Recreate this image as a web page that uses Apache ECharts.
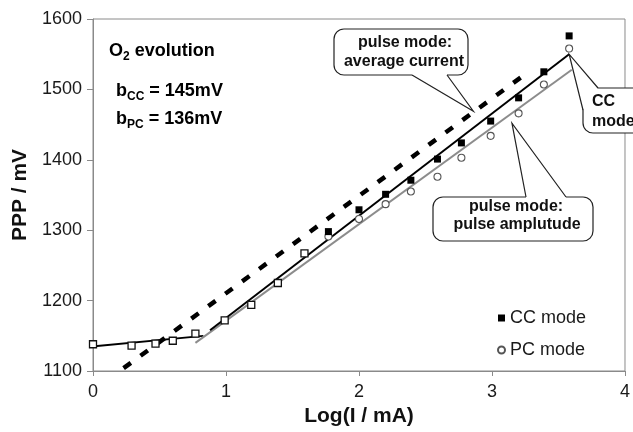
<!DOCTYPE html>
<html><head><meta charset="utf-8">
<script src="https://cdn.jsdelivr.net/npm/echarts@6/dist/echarts.min.js"></script>
<style>html,body{margin:0;padding:0;background:#fff}#c{width:633px;height:432px}</style>
</head><body><div id="c"></div>
<script>
// ---- data ----
const xTicks = [0, 1, 2, 3, 4];
const yTicks = [1100, 1200, 1300, 1400, 1500, 1600];
const ccX = [1.77, 2.00, 2.20, 2.39, 2.59, 2.77, 2.99, 3.20, 3.39, 3.58];
const ccY = [1298, 1329, 1351, 1371, 1401, 1424, 1455, 1488, 1525, 1576];
const pcX = [1.77, 2.00, 2.20, 2.39, 2.59, 2.77, 2.99, 3.20, 3.39, 3.58];
const pcY = [1291, 1316, 1337, 1355, 1376, 1403, 1434, 1466, 1507, 1558];
const lowX = [0.00, 0.29, 0.47, 0.60, 0.77, 0.99, 1.19, 1.39, 1.59];
const lowY = [1138, 1136, 1139, 1143, 1153, 1172, 1194, 1225, 1267];
const lowFitX = [-0.05, 0.83];
const lowFitY = [1134, 1150];
const ccFitX = [0.88, 3.58];
const ccFitY = [1158, 1550];
const pcFitX = [0.77, 3.60];
const pcFitY = [1140, 1528];
const avgFitX = [0.23, 3.26];
const avgFitY = [1104, 1523];

const zip = (a, b) => a.map((v, i) => [v, b[i]]);
const FONT = 'Arial, "Liberation Sans", sans-serif';

const chart = echarts.init(document.getElementById('c'), null, {renderer: 'canvas'});

const option = {
  animation: false,
  backgroundColor: '#fff',
  grid: {left: 93, right: 3, top: 19, bottom: 61, show: true, borderColor: '#8a8a8a', borderWidth: 1},
  xAxis: {
    type: 'value', min: xTicks[0], max: xTicks[xTicks.length - 1], interval: 1,
    name: 'Log(I / mA)', nameLocation: 'middle', nameGap: 31,
    nameTextStyle: {fontFamily: FONT, fontWeight: 'bold', fontSize: 21, color: '#111'},
    axisLine: {lineStyle: {color: '#8a8a8a', width: 1}},
    axisTick: {inside: false, length: 5, lineStyle: {color: '#8a8a8a'}},
    axisLabel: {fontFamily: FONT, fontSize: 18, color: '#1a1a1a', margin: 12},
    splitLine: {show: false}
  },
  yAxis: {
    type: 'value', min: yTicks[0], max: yTicks[yTicks.length - 1], interval: 100,
    name: 'PPP / mV', nameLocation: 'middle', nameGap: 62, nameRotate: 90,
    nameTextStyle: {fontFamily: FONT, fontWeight: 'bold', fontSize: 21, color: '#111'},
    axisLine: {lineStyle: {color: '#8a8a8a', width: 1}},
    axisTick: {inside: false, length: 6, lineStyle: {color: '#8a8a8a'}},
    axisLabel: {fontFamily: FONT, fontSize: 18, color: '#1a1a1a', margin: 11, formatter: v => String(v)},
    splitLine: {show: false}
  },
  legend: {
    orient: 'vertical', left: 492, top: 303, itemWidth: 7, itemHeight: 7, itemGap: 12,
    data: ['CC mode', 'PC mode'],
    textStyle: {fontFamily: FONT, fontSize: 18, color: '#1a1a1a', lineHeight: 20}
  },
  series: [
    {type: 'line', name: 'lowfit', data: zip(lowFitX, lowFitY), symbol: 'none', clip: false,
     lineStyle: {color: '#000', width: 1.8}, z: 2},
    {type: 'line', name: 'avgfit', data: zip(avgFitX, avgFitY), symbol: 'none',
     lineStyle: {color: '#000', width: 4.5, type: [9, 12], cap: 'butt'}, z: 2},
    {type: 'line', name: 'pcfit', data: zip(pcFitX, pcFitY), symbol: 'none',
     lineStyle: {color: '#8c8c8c', width: 2}, z: 2},
    {type: 'line', name: 'ccfit', data: zip(ccFitX, ccFitY), symbol: 'none',
     lineStyle: {color: '#000', width: 2}, z: 2},
    {type: 'scatter', name: 'low', data: zip(lowX, lowY), symbol: 'rect', symbolSize: 7,
     itemStyle: {color: '#fff', borderColor: '#111', borderWidth: 1.3, opacity: 1}, z: 3},
    {type: 'scatter', name: 'PC mode', data: zip(pcX, pcY), symbol: 'circle', symbolSize: 7,
     itemStyle: {color: '#fff', borderColor: '#555', borderWidth: 1.1, opacity: 1}, z: 3},
    {type: 'scatter', name: 'CC mode', data: zip(ccX, ccY), symbol: 'rect', symbolSize: 7,
     itemStyle: {color: '#000', opacity: 1}, z: 4}
  ]
};
chart.setOption(option);

// ---- annotations ----
const STROKE = '#222';
function callout(box, p1, p2, apexData, inset) {
  const a = chart.convertToPixel({gridIndex: 0}, apexData);
  const els = [];
  els.push({type: 'rect', shape: {x: box[0], y: box[1], width: box[2], height: box[3], r: 10},
    style: {fill: '#fff', stroke: STROKE, lineWidth: 1.2}, z: 100});
  els.push({type: 'polygon', shape: {points: [inset[0], p1, a, p2, inset[1]]},
    style: {fill: '#fff', stroke: null}, z: 101});
  els.push({type: 'polyline', shape: {points: [p1, a, p2]},
    style: {fill: null, stroke: STROKE, lineWidth: 1.2}, z: 102});
  return els;
}
function label(text, x, y, align) {
  return {type: 'text', z: 110, style: {text: text, x: x, y: y, align: align || 'center', verticalAlign: 'middle',
    textAlign: align || 'center', textVerticalAlign: 'middle',
    font: 'bold 16px ' + FONT, fill: '#111'}};
}
const sub = {
  a: {fontFamily: FONT, fontWeight: 'bold', fontSize: 18, color: '#111', lineHeight: 20, verticalAlign: 'bottom'},
  s: {fontFamily: FONT, fontWeight: 'bold', fontSize: 12, color: '#111', lineHeight: 12, verticalAlign: 'bottom', padding: [0, 0, -3, 0]}
};
function richText(text, x, y) {
  return {type: 'text', z: 110, style: {text: text, rich: sub, x: x, y: y, verticalAlign: 'middle', textVerticalAlign: 'middle',
    align: 'left', textAlign: 'left'}};
}

const graphics = [].concat(
  callout([334, 29, 134, 46], [412, 75], [447, 75], [2.86, 1469], [[412, 73], [447, 73]]),
  callout([583, 88, 70, 45], [598, 88], [583, 110], [ccFitX[1], ccFitY[1]], [[585, 110], [598, 90]]),
  callout([433, 197, 160, 44], [526, 197], [566, 197], [3.15, 1452], [[526, 199], [566, 199]]),
  [
    label('pulse mode:', 405, 43), label('average current', 404, 62),
    label('CC', 592, 102, 'left'), label('mode', 592, 122, 'left'),
    label('pulse mode:', 516, 207), label('pulse amplutude', 517, 225),
    richText('{a|O}{s|2}{a| evolution}', 109, 50),
    richText('{a|b}{s|CC}{a| = 145mV}', 116, 90),
    richText('{a|b}{s|PC}{a| = 136mV}', 116, 118)
  ]
);
chart.setOption({graphic: graphics});
</script>
</body></html>
